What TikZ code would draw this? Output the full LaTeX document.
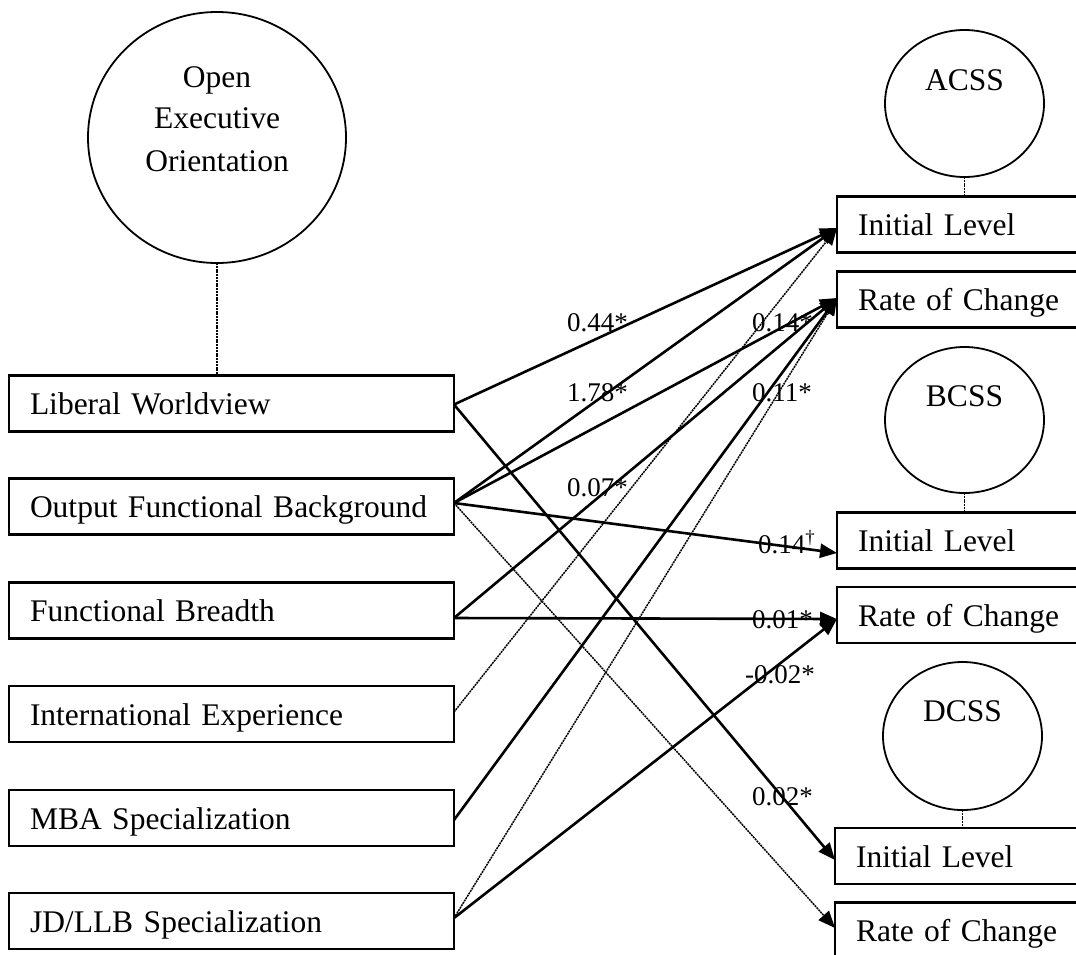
\documentclass[tikz,border=0pt]{standalone}
\usepackage{fontspec}
\setmainfont{Liberation Serif}
\usetikzlibrary{arrows.meta,shapes.geometric}
\begin{document}
\begin{tikzpicture}[x=1pt,y=-1pt,
  box/.style={draw, line width=2.2pt, anchor=west, outer sep=0pt, minimum height=56pt,
    inner xsep=21pt, inner ysep=0pt, text height=22pt, text depth=0pt, align=left,
    font=\fontsize{31.5}{42}\selectfont},
  latent/.style={draw, ellipse, line width=1.8pt, inner sep=0pt, outer sep=0pt},
  ctext/.style={anchor=base, inner sep=0pt, font=\fontsize{31.5}{42}\selectfont},
  lbl/.style={anchor=base west, inner sep=0pt, font=\fontsize{27}{30}\selectfont},
  link/.style={line width=1.5pt, dash pattern=on 2pt off 0.8pt},
  solidarrow/.style={line width=2.6pt, -{Triangle[length=17pt,width=14pt]}},
  dotarrow/.style={line width=1.5pt, dash pattern=on 2pt off 0.8pt, -{Triangle[length=17pt,width=14pt]}},
]
\useasboundingbox (0,0) rectangle (1076,954);
\clip (0,0) rectangle (1076,954);

% latent variables
\node[latent, minimum width=258pt, minimum height=251pt] (oe) at (217,137.5) {};
\node[ctext] (oe1) at (217,87) {Open};
\node[ctext] (oe2) at (217,128) {Executive};
\node[ctext] (oe3) at (217,171) {Orientation};

\node[latent, minimum width=159pt, minimum height=147pt] (acss) at (964.5,103.5) {};
\node[ctext] (acsst) at (964.5,90) {ACSS};
\node[latent, minimum width=159pt, minimum height=146pt] (bcss) at (964.5,420) {};
\node[ctext] (bcsst) at (964.5,406) {BCSS};
\node[latent, minimum width=159pt, minimum height=148pt] (dcss) at (962.5,736) {};
\node[ctext] (dcsst) at (962.5,721) {DCSS};

% left boxes
\node[box, text width=403pt] (lw)  at (9,403.5) {Liberal Worldview};
\node[box, text width=403pt] (ofb) at (9,506.5) {Output Functional Background};
\node[box, text width=403pt] (fb)  at (9,610.5) {Functional Breadth};
\node[box, text width=403pt] (ie)  at (9,714) {International Experience};
\node[box, text width=403pt] (mba) at (9,818) {MBA Specialization};
\node[box, text width=403pt] (jd)  at (9,921) {JD/LLB Specialization};

% right boxes
\node[box, text width=258pt] (ail) at (837,224.5) {Initial Level};
\node[box, text width=258pt] (arc) at (837,299.5) {Rate of Change};
\node[box, text width=258pt] (bil) at (837,540.5) {Initial Level};
\node[box, text width=258pt] (brc) at (837,615) {Rate of Change};
\node[box, text width=258pt] (dil) at (835,856) {Initial Level};
\node[box, text width=258pt] (drc) at (835,930.5) {Rate of Change};

% measurement links
\draw[link] (oe.south) -- (oe.south |- lw.north);
\draw[link] (acss.south) -- (acss.south |- ail.north);
\draw[link] (bcss.south) -- (bcss.south |- bil.north);
\draw[link] (dcss.south) -- (dcss.south |- dil.north);

% structural paths
\draw[solidarrow] ([yshift=-1pt]lw.east) -- ([yshift=-3.5pt]ail.west);
\draw[solidarrow] ([yshift=-1pt]lw.east) -- ([yshift=-4pt]dil.west);
\draw[solidarrow] ([yshift=3.5pt]ofb.east) -- ([yshift=-3.5pt]ail.west);
\draw[solidarrow] ([yshift=3.5pt]ofb.east) -- ([yshift=1.5pt]arc.west);
\draw[solidarrow] ([yshift=3.5pt]ofb.east) -- ([yshift=-12.5pt]bil.west);
\draw[dotarrow]   ([yshift=3.5pt]ofb.east) -- ([yshift=2.5pt]drc.west);
\draw[solidarrow] ([yshift=-7.5pt]fb.east) -- ([yshift=1.5pt]arc.west);
\draw[solidarrow] ([yshift=-7.5pt]fb.east) -- ([yshift=-4pt]brc.west);
\draw[dotarrow]   ([yshift=2pt]ie.east) -- ([yshift=-3.5pt]ail.west);
\draw[solidarrow] ([yshift=-2pt]mba.east) -- ([yshift=1.5pt]arc.west);
\draw[dotarrow]   ([yshift=3pt]jd.east) -- ([yshift=1.5pt]arc.west);
\draw[solidarrow] ([yshift=3pt]jd.east) -- ([yshift=-4pt]brc.west);

% coefficients
\node[lbl] (c1) at (567,331) {0.44*};
\node[lbl] (c2) at (567,401) {1.78*};
\node[lbl] (c3) at (752,331) {0.14*};
\node[lbl] (c4) at (752,401) {0.11*};
\node[lbl] (c5) at (567,496) {0.07*};
\node[lbl] (c6) at (758,553) {0.14\textsuperscript{†}};
\node[lbl] (c7) at (752,628) {0.01*};
\node[lbl] (c8) at (745,683) {-0.02*};
\node[lbl] (c9) at (752,805) {0.02*};
\end{tikzpicture}
\end{document}
